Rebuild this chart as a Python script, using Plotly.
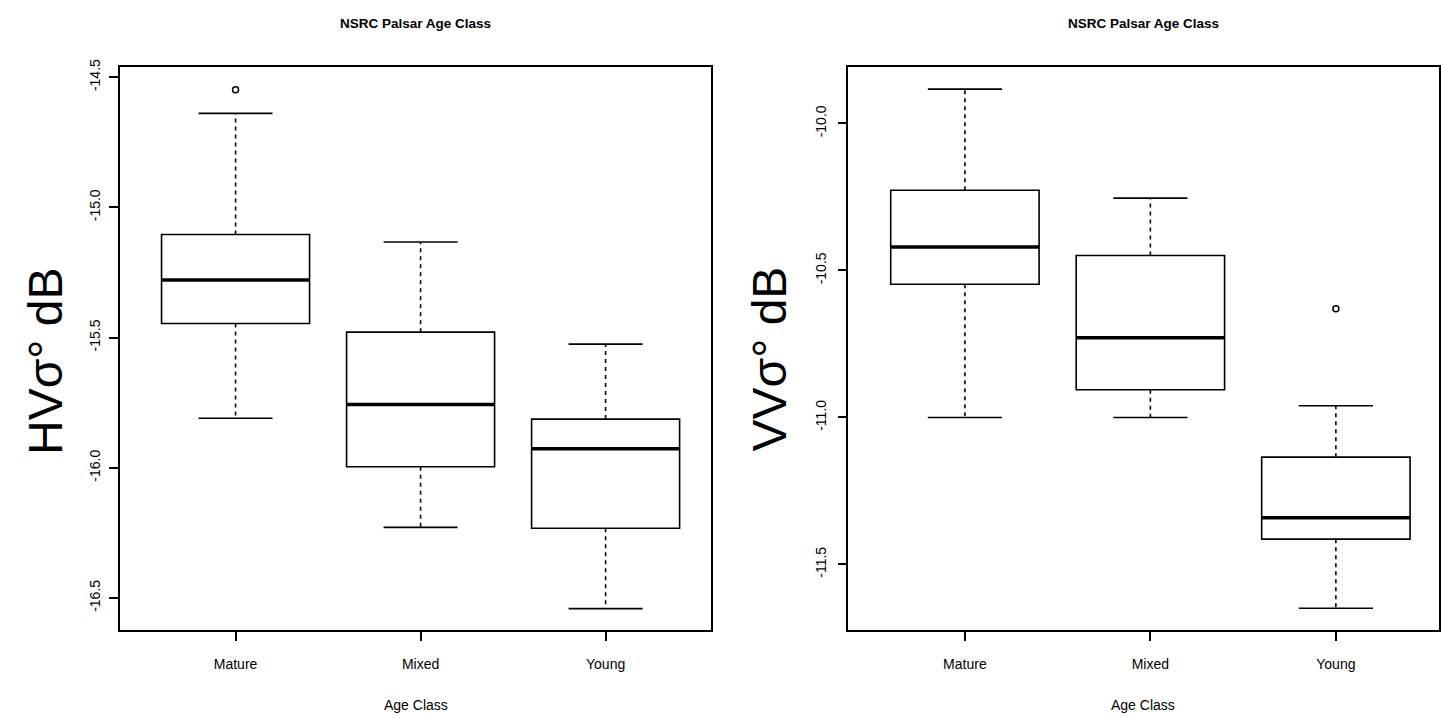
import plotly.graph_objects as go

W, H = 1441, 718

categories = ["Mature", "Mixed", "Young"]
cat_pos = [1, 2, 3]

# HV panel (left)
hv_lower = [-15.810, -16.229, -16.541]
hv_q1 = [-15.446, -15.996, -16.232]
hv_median = [-15.279, -15.757, -15.927]
hv_q3 = [-15.104, -15.479, -15.813]
hv_upper = [-14.639, -15.133, -15.525]
hv_outlier_x = [1]
hv_outlier_y = [-14.548]
hv_ticks = [-14.5, -15.0, -15.5, -16.0, -16.5]
hv_ticklabels = ["-14.5", "-15.0", "-15.5", "-16.0", "-16.5"]

# VV panel (right)
vv_lower = [-11.000, -11.000, -11.649]
vv_q1 = [-10.547, -10.906, -11.414]
vv_median = [-10.420, -10.729, -11.341]
vv_q3 = [-10.227, -10.449, -11.135]
vv_upper = [-9.883, -10.254, -10.960]
vv_outlier_x = [3]
vv_outlier_y = [-10.630]
vv_ticks = [-10.0, -10.5, -11.0, -11.5]
vv_ticklabels = ["-10.0", "-10.5", "-11.0", "-11.5"]

BOX_W = 0.8
CAP_W = 0.4
LW = 1.6

fig = go.Figure()


def add_panel(xa, ya, lower, q1, med, q3, upper, ox, oy):
    fig.add_trace(go.Box(
        x=cat_pos, q1=q1, median=med, q3=q3, lowerfence=q1, upperfence=q3,
        width=BOX_W, whiskerwidth=0, fillcolor="white",
        line=dict(color="black", width=LW), boxpoints=False,
        xaxis=xa, yaxis=ya, showlegend=False, hoverinfo="skip"))
    # medians (thick)
    mx, my = [], []
    for p, m in zip(cat_pos, med):
        mx += [p - BOX_W / 2, p + BOX_W / 2, None]
        my += [m, m, None]
    fig.add_trace(go.Scatter(x=mx, y=my, mode="lines",
                             line=dict(color="black", width=3.6),
                             xaxis=xa, yaxis=ya, showlegend=False, hoverinfo="skip"))
    # whiskers (dashed)
    wx, wy = [], []
    for p, a, b, c, d in zip(cat_pos, lower, q1, q3, upper):
        wx += [p, p, None, p, p, None]
        wy += [c, d, None, b, a, None]
    fig.add_trace(go.Scatter(x=wx, y=wy, mode="lines",
                             line=dict(color="black", width=1.6, dash="4px,4px"),
                             xaxis=xa, yaxis=ya, showlegend=False, hoverinfo="skip"))
    # caps
    cx, cy = [], []
    for p, a, d in zip(cat_pos, lower, upper):
        cx += [p - CAP_W / 2, p + CAP_W / 2, None, p - CAP_W / 2, p + CAP_W / 2, None]
        cy += [a, a, None, d, d, None]
    fig.add_trace(go.Scatter(x=cx, y=cy, mode="lines",
                             line=dict(color="black", width=LW),
                             xaxis=xa, yaxis=ya, showlegend=False, hoverinfo="skip"))
    # outliers
    fig.add_trace(go.Scatter(x=ox, y=oy, mode="markers",
                             marker=dict(symbol="circle-open", size=6, color="black",
                                         line=dict(width=1.5)),
                             xaxis=xa, yaxis=ya, showlegend=False, hoverinfo="skip"))


add_panel("x", "y", hv_lower, hv_q1, hv_median, hv_q3, hv_upper, hv_outlier_x, hv_outlier_y)
add_panel("x2", "y2", vv_lower, vv_q1, vv_median, vv_q3, vv_upper, vv_outlier_x, vv_outlier_y)

tick_font = dict(family="Liberation Sans, Arial", size=14, color="black")
ydom = [1 - 629 / H, 1 - 60 / H]

common_axis = dict(showline=True, mirror=True, linecolor="black", linewidth=1.5,
                   ticks="outside", ticklen=9, tickwidth=1.5, tickcolor="black",
                   showgrid=False, zeroline=False, tickfont=tick_font, fixedrange=True)

fig.update_layout(
    width=W, height=H, autosize=False,
    margin=dict(l=0, r=0, t=0, b=0),
    paper_bgcolor="white", plot_bgcolor="white",
    boxmode="overlay",
    xaxis=dict(domain=[120 / W, 711 / W], range=[0.375, 3.567],
               tickvals=cat_pos, ticktext=categories, ticklabelstandoff=11, **common_axis),
    yaxis=dict(domain=ydom, range=[-16.623, -14.462], anchor="x",
               tickvals=hv_ticks, ticktext=hv_ticklabels, tickangle=-90,
               ticklabelstandoff=4, **common_axis),
    xaxis2=dict(domain=[849 / W, 1440 / W], range=[0.372, 3.556], anchor="y2",
                tickvals=cat_pos, ticktext=categories, ticklabelstandoff=11, **common_axis),
    yaxis2=dict(domain=ydom, range=[-11.723, -9.809], anchor="x2",
                tickvals=vv_ticks, ticktext=vv_ticklabels, tickangle=-90,
                ticklabelstandoff=6, **common_axis),
)

title_font = dict(family="Liberation Sans, Arial", size=13.5, color="black")
ann = []
for cx in (416, 1144):
    ann.append(dict(text="<b>NSRC Palsar Age Class</b>", x=cx / W, y=1 - 16 / H,
                    xref="paper", yref="paper", showarrow=False, font=title_font,
                    xanchor="center", yanchor="middle"))
    ann.append(dict(text="Age Class", x=cx / W, y=1 - 705 / H,
                    xref="paper", yref="paper", showarrow=False,
                    font=dict(family="Liberation Sans, Arial", size=14, color="black"),
                    xanchor="center", yanchor="middle"))
ann.append(dict(text="HVσ° dB", x=45 / W, y=1 - 357 / H, xref="paper", yref="paper",
                showarrow=False, textangle=-90,
                font=dict(family="Liberation Sans, Arial", size=48, color="black"),
                xanchor="center", yanchor="middle"))
ann.append(dict(text="VVσ° dB", x=770 / W, y=1 - 355 / H, xref="paper", yref="paper",
                showarrow=False, textangle=-90,
                font=dict(family="Liberation Sans, Arial", size=48, color="black"),
                xanchor="center", yanchor="middle"))
fig.update_layout(annotations=ann)

post = ("var gd=document.getElementById('{plot_id}');"
        "document.body.style.margin='0';"
        "gd.style.position='fixed';gd.style.left='0px';gd.style.top='0px';")
fig.write_html("out.html", post_script=post, config={"displayModeBar": False})
